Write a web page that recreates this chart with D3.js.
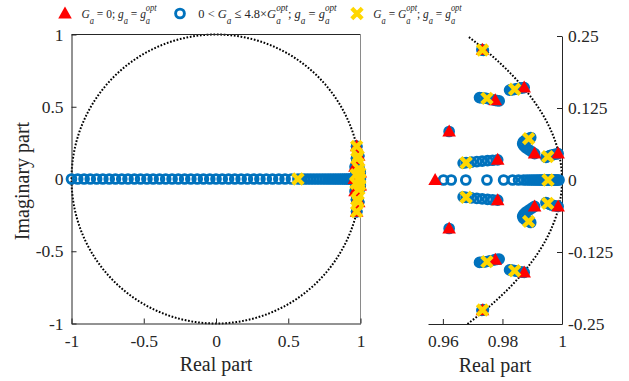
<!DOCTYPE html>
<html><head><meta charset="utf-8">
<script src="https://cdn.jsdelivr.net/npm/d3@7"></script>
<style>
body{margin:0;background:#fff}
svg{display:block}
text{font-family:"Liberation Serif","Times New Roman",serif;fill:#262626;white-space:pre}
</style>
</head><body><svg id="c" width="629" height="381"></svg>
<script>
// ---- data ----
// Ga = 0 poles (red triangles)
const triRe = [0.9733, 0.9873, 0.9776, 0.9621, 0.9908, 0.9987, 0.9784, 0.9574,
               0.9733, 0.9873, 0.9776, 0.9621, 0.9908, 0.9987, 0.9784];
const triIm = [0.2262, 0.1604, 0.1384, 0.0840, 0.0458, 0.0458, 0.0350, 0,
              -0.2262,-0.1604,-0.1384,-0.0840,-0.0458,-0.0458,-0.0350];
// Ga = Gopt poles (yellow crosses)
const crossRe = [0.9733, 0.9841, 0.9748, 0.9888, 0.9952, 0.9678, 0.9953, 0.567,
                 0.9733, 0.9841, 0.9748, 0.9888, 0.9952, 0.9678];
const crossIm = [0.2257, 0.1575, 0.1418, 0.0718, 0.0406, 0.0300, 0, 0,
                -0.2257,-0.1575,-0.1418,-0.0718,-0.0406,-0.0300];
// 0 < Ga <= 4.8 Gopt poles (blue circles): real branch
const circRealRe = [-1.000,-0.957,-0.913,-0.870,-0.826,-0.783,-0.739,-0.696,-0.652,-0.609,
  -0.565,-0.522,-0.478,-0.435,-0.391,-0.348,-0.304,-0.261,-0.217,-0.174,-0.130,-0.087,-0.043,
  0.000,0.043,0.087,0.130,0.174,0.217,0.261,0.304,0.348,0.391,0.435,0.478,0.522,0.567,
  0.590,0.612,0.634,0.655,0.676,0.697,0.717,0.737,0.756,0.775,0.793,0.811,0.828,0.845,
  0.861,0.876,0.890,0.903,0.915,0.926,0.936,0.945,0.953,
  0.9602,0.9628,0.9677,0.9748,0.9804,0.9834,0.9854,0.9871,0.9882,0.9891,0.9899,0.9906,
  0.9913,0.9919,0.9925,0.9930,0.9935,0.9940,0.9945,0.9950,0.9954,0.9958,0.9962,0.9966,
  0.9970,0.9974,0.9978,0.9982,0.9986,0.9990];
// complex branches (upper half)
const circUpRe = [0.9731,0.9733,0.9736,
  0.9873,0.9866,0.9859,0.9852,0.9846,0.9841,0.9835,0.9829,0.9824,
  0.9789,0.9782,0.9776,0.9768,0.9760,0.9752,0.9745,0.9737,0.9730,0.9723,
  0.9621,
  0.9908,0.9899,0.9889,0.9879,0.9872,0.9868,0.9870,0.9877,0.9888,0.9895,
  0.9987,0.9980,0.9973,0.9966,0.9959,0.9952,0.9946,
  0.9784,0.9767,0.9750,0.9732,0.9714,0.9696,0.9678,0.9668];
const circUpIm = [0.2262,0.2257,0.2252,
  0.1604,0.1599,0.1593,0.1587,0.1581,0.1575,0.1570,0.1566,0.1562,
  0.1372,0.1378,0.1384,0.1393,0.1402,0.1411,0.1419,0.1424,0.1428,0.1431,
  0.0842,
  0.0458,0.0490,0.0522,0.0556,0.0592,0.0628,0.0662,0.0694,0.0718,0.0738,
  0.0458,0.0451,0.0443,0.0434,0.0422,0.0406,0.0392,
  0.0350,0.0343,0.0336,0.0328,0.0320,0.0311,0.0300,0.0293];
// complex branches (lower half)
const circLoRe = [0.9731,0.9733,0.9736,
  0.9873,0.9866,0.9859,0.9852,0.9846,0.9841,0.9835,0.9829,0.9824,
  0.9789,0.9782,0.9776,0.9768,0.9760,0.9752,0.9745,0.9737,0.9730,0.9723,
  0.9621,
  0.9908,0.9899,0.9889,0.9879,0.9872,0.9868,0.9870,0.9877,0.9888,0.9895,
  0.9987,0.9980,0.9973,0.9966,0.9959,0.9952,0.9946,
  0.9784,0.9767,0.9750,0.9732,0.9714,0.9696,0.9678,0.9668];
const circLoIm = [-0.2262,-0.2257,-0.2252,
  -0.1604,-0.1599,-0.1593,-0.1587,-0.1581,-0.1575,-0.1570,-0.1566,-0.1562,
  -0.1372,-0.1378,-0.1384,-0.1393,-0.1402,-0.1411,-0.1419,-0.1424,-0.1428,-0.1431,
  -0.0842,
  -0.0458,-0.0490,-0.0522,-0.0556,-0.0592,-0.0628,-0.0662,-0.0694,-0.0718,-0.0738,
  -0.0458,-0.0451,-0.0443,-0.0434,-0.0422,-0.0406,-0.0392,
  -0.0350,-0.0343,-0.0336,-0.0328,-0.0320,-0.0311,-0.0300,-0.0293];

const leftXTicks = [-1,-0.5,0,0.5,1], leftXLabels = ["-1","-0.5","0","0.5","1"];
const leftYTicks = [-1,-0.5,0,0.5,1], leftYLabels = ["-1","-0.5","0","0.5","1"];
const rightXTicks = [0.96,0.98,1], rightXLabels = ["0.96","0.98","1"];
const rightYTicks = [-0.25,-0.125,0,0.125,0.25], rightYLabels = ["-0.25","-0.125","0","0.125","0.25"];

// ---- build point sets ----
const zip = (re, im) => re.map((r,i)=>({re:r, im:im[i]}));
const tris = zip(triRe, triIm);
const crosses = zip(crossRe, crossIm);
const circs = zip(circRealRe, circRealRe.map(()=>0))
  .concat(zip(circUpRe, circUpIm)).concat(zip(circLoRe, circLoIm));

const svg = d3.select("#c");
const BLUE = "#0072BD", RED = "#FF0000", YEL = "#FFD700", AX = "#262626";
const SERIF = '"Liberation Serif","Times New Roman",serif';
const TRI = "M0,-7L6.8,5L-6.8,5Z", CROSS = "M-5.2,-5.2L5.2,5.2M-5.2,5.2L5.2,-5.2";
const TICKFS = "17.5px", LABFS = "20px";

function drawMarkers(g, xs, ys, filt) {
  const inD = d => !filt || filt(d);
  g.selectAll(null).data(circs.filter(inD)).join("circle")
    .attr("cx", d=>xs(d.re)).attr("cy", d=>ys(d.im)).attr("r", 4.4)
    .attr("fill","none").attr("stroke",BLUE).attr("stroke-width",2.9);
  g.selectAll(null).data(tris.filter(inD)).join("path")
    .attr("transform", d=>`translate(${xs(d.re)},${ys(d.im)})`)
    .attr("d",TRI).attr("fill",RED);
  g.selectAll(null).data(crosses.filter(inD)).join("path")
    .attr("transform", d=>`translate(${xs(d.re)},${ys(d.im)})`)
    .attr("d",CROSS).attr("stroke",YEL).attr("stroke-width",4.2)
    .attr("fill","none");
}
function styleAxis(g){
  g.attr("font-family",null).attr("font-size",null);
  g.selectAll("path,line").attr("stroke",AX).attr("stroke-width",1);
  g.selectAll("text").style("font-family",SERIF).style("font-size",TICKFS).attr("fill",AX);
}

// ---- left panel ----
const xL = d3.scaleLinear([-1,1],[71.5,360.5]);
const yL = d3.scaleLinear([-1,1],[323.5,34.5]);
const gL = svg.append("g");
const circlePts = d3.range(0, 361, 1).map(a => [Math.cos(a*Math.PI/180), Math.sin(a*Math.PI/180)]);
gL.append("path").datum(circlePts)
  .attr("d", d3.line(p=>xL(p[0]), p=>yL(p[1])))
  .attr("fill","none").attr("stroke","#000").attr("stroke-width",2).attr("stroke-dasharray","1.7 1.7");
gL.append("line").attr("x1",xL(-1)).attr("x2",xL(1)).attr("y1",yL(1)).attr("y2",yL(1)).attr("stroke",AX);
gL.append("line").attr("x1",xL(1)).attr("x2",xL(1)).attr("y1",yL(1)).attr("y2",yL(-1)).attr("stroke","#8a8a8a");
const axLx = gL.append("g").attr("transform",`translate(0,${yL(-1)})`)
  .call(d3.axisBottom(xL).tickValues(leftXTicks).tickFormat((d,i)=>leftXLabels[i]).tickSize(-5).tickSizeOuter(0).tickPadding(10.6));
styleAxis(axLx);
const axLy = gL.append("g").attr("transform",`translate(${xL(-1)},0)`)
  .call(d3.axisLeft(yL).tickValues(leftYTicks).tickFormat((d,i)=>leftYLabels[i]).tickSize(-5).tickSizeOuter(0).tickPadding(8));
styleAxis(axLy);
drawMarkers(gL.append("g"), xL, yL, null);
gL.append("text").attr("x",(xL(-1)+xL(1))/2).attr("y",370.5).attr("text-anchor","middle").style("font-size",LABFS).text("Real part");
gL.append("text").attr("transform","translate(29,181) rotate(-90)").attr("text-anchor","middle").style("font-size",LABFS).text("Imaginary part");

// ---- right panel ----
const xR = d3.scaleLinear([0.955,1],[428,562]);
const yR = d3.scaleLinear([-0.25,0.25],[324,36]);
const gR = svg.append("g");
svg.append("clipPath").attr("id","cr").append("rect")
  .attr("x",xR(0.955)).attr("y",yR(0.25)).attr("width",xR(1)-xR(0.955)).attr("height",yR(-0.25)-yR(0.25));
const aMax = Math.asin(0.25)*180/Math.PI;
const arcPts = d3.range(-aMax, aMax+0.01, 0.1).map(a => [Math.cos(a*Math.PI/180), Math.sin(a*Math.PI/180)]);
gR.append("path").datum(arcPts).attr("clip-path","url(#cr)")
  .attr("d", d3.line(p=>xR(p[0]), p=>yR(p[1])))
  .attr("fill","none").attr("stroke","#000").attr("stroke-width",2).attr("stroke-dasharray","1.7 1.7");
const axRx = gR.append("g").attr("transform",`translate(0,${yR(-0.25)})`)
  .call(d3.axisBottom(xR).tickValues(rightXTicks).tickFormat((d,i)=>rightXLabels[i]).tickSize(-5).tickSizeOuter(0).tickPadding(10.6));
styleAxis(axRx);
const axRy = gR.append("g").attr("transform",`translate(${xR(1)},0)`)
  .call(d3.axisRight(yR).tickValues(rightYTicks).tickFormat((d,i)=>rightYLabels[i]).tickSize(-5).tickSizeOuter(0).tickPadding(6));
styleAxis(axRy);
drawMarkers(gR.append("g"), xR, yR, d => d.re >= 0.955 && d.re <= 1.001 && Math.abs(d.im) <= 0.25);
gR.append("text").attr("x",495).attr("y",371.5).attr("text-anchor","middle").style("font-size",LABFS).text("Real part");

// ---- legend ----
function rich(x0, y0, xEnd, parts){
  const leg = svg.append("g");
  let x = x0;
  const MS = 13.5, SS = 10;
  parts.forEach(p=>{
    if (p.ss) {
      const a = leg.append("text").attr("x",x).attr("y",y0+5.5).style("font-size",SS+"px").style("font-style","italic").text(p.ss[0]);
      const b = leg.append("text").attr("x",x).attr("y",y0-7.5).style("font-size",SS+"px").style("font-style","italic").text(p.ss[1]);
      x += Math.max(a.node().getComputedTextLength(), b.node().getComputedTextLength());
    } else if (p.sub) {
      const a = leg.append("text").attr("x",x).attr("y",y0+5.5).style("font-size",SS+"px").style("font-style","italic").text(p.sub);
      x += a.node().getComputedTextLength();
    } else {
      const t = leg.append("text").attr("x",x).attr("y",y0).style("font-size",MS+"px").style("font-style",p.it?"italic":"normal").text(p.t);
      x += t.node().getComputedTextLength();
    }
  });
  const k = (xEnd - x0) / (x - x0);
  leg.attr("transform", `translate(${x0},0) scale(${k},1) translate(${-x0},0)`);
}
svg.append("path").attr("transform","translate(65,13.5)").attr("d",TRI).attr("fill",RED);
rich(81.5, 18.5, 156.7, [{t:"G",it:1},{sub:"a"},{t:" = 0; "},{t:"g",it:1},{sub:"a"},{t:" = "},{t:"g",it:1},{ss:["a","opt"]}]);
svg.append("circle").attr("cx",180).attr("cy",13.5).attr("r",4.4).attr("fill","none").attr("stroke",BLUE).attr("stroke-width",2.9);
rich(198.3, 18.5, 336.7, [{t:"0 < "},{t:"G",it:1},{sub:"a"},{t:" ≤ 4.8×"},{t:"G",it:1},{ss:["a","opt"]},{t:"; "},{t:"g",it:1},{sub:"a"},{t:" = "},{t:"g",it:1},{ss:["a","opt"]}]);
svg.append("path").attr("transform","translate(357,13.5)").attr("d",CROSS).attr("stroke",YEL).attr("stroke-width",4.2);
rich(373.3, 18.5, 461.7, [{t:"G",it:1},{sub:"a"},{t:" = "},{t:"G",it:1},{ss:["a","opt"]},{t:"; "},{t:"g",it:1},{sub:"a"},{t:" = "},{t:"g",it:1},{ss:["a","opt"]}]);
</script>
</body></html>
